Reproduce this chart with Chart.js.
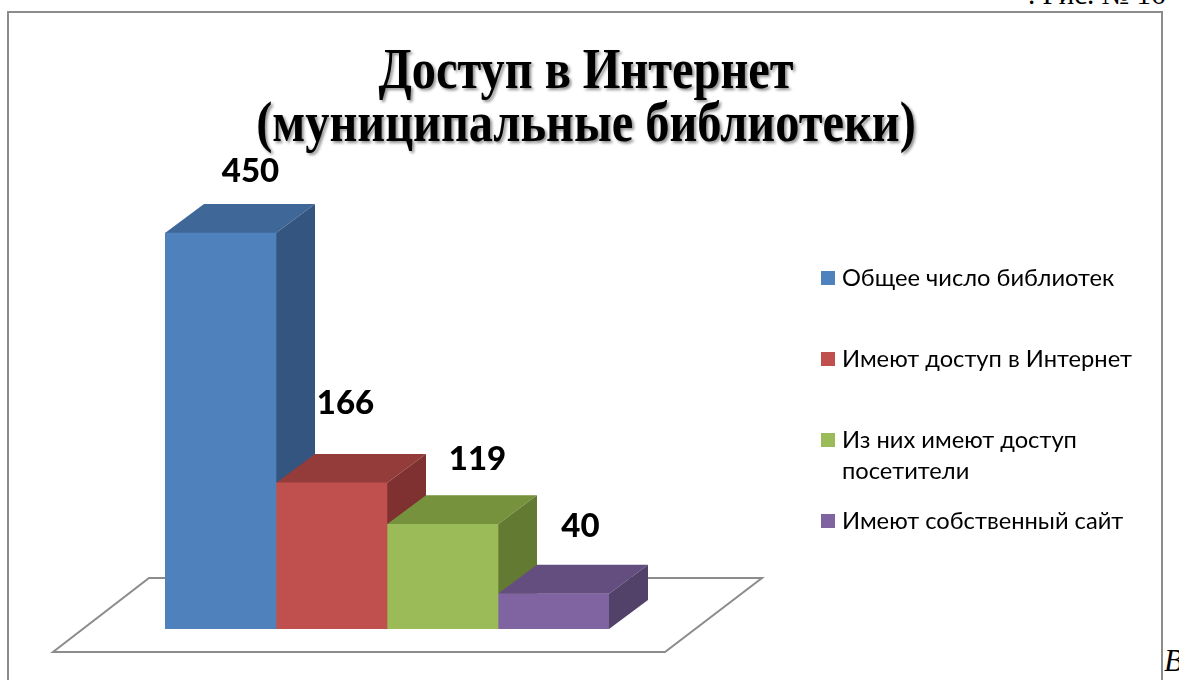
<!DOCTYPE html>
<html>
<head>
<meta charset="utf-8">
<script src="https://cdn.jsdelivr.net/npm/chart.js@4/dist/chart.umd.min.js"></script>
<style>
  html, body { margin: 0; padding: 0; background: #fff; overflow: hidden; }
  #wrap { position: relative; width: 1179px; height: 680px; }
  #frame { position: absolute; left: 7px; top: 11px; width: 1156px; height: 720px; border: 2px solid #8c8c8c; box-sizing: border-box; }
  #fig { position: absolute; left: 1028px; top: -22px; font: 29px "Liberation Serif", serif; color: #000; white-space: nowrap; }
  #tail { position: absolute; left: 1164px; top: 643px; font: italic 31px "Liberation Serif", serif; color: #000; }
  canvas { position: absolute; left: 0; top: 0; }
</style>
</head>
<body>
<div id="wrap">
  <div id="frame"></div>
  <div id="fig">. Рис. № 16</div>
  <div id="tail">В</div>
  <canvas id="c" width="1179" height="680"></canvas>
</div>
<script>
// ---- data ----
const categories = ['Муниципальные библиотеки'];
const seriesNames = ['Общее число библиотек', 'Имеют доступ в Интернет', 'Из них имеют доступ посетители', 'Имеют собственный сайт'];
const seriesValues = [450, 166, 119, 40];
const titleLines = ['Доступ в Интернет', '(муниципальные библиотеки)'];

// ---- styles ----
const frontColors = ['#4F81BD', '#C0504D', '#9BBB59', '#8064A2'];
const topColors   = ['#3F6898', '#943C3A', '#76923D', '#634E7F'];
const sideColors  = ['#33557F', '#7E3130', '#637A32', '#52426A'];
const DEPTH_X = 39, DEPTH_Y = -29;
const labelDX = [30, 14, 35, 27];
const labelDY = [-51, -69, -54, -57];

const bars3d = {
  id: 'bars3d',
  beforeDatasetsDraw(chart) {
    const ctx = chart.ctx;
    const a = chart.chartArea;
    const base = chart.scales.y.getPixelForValue(0);
    // floor
    ctx.save();
    ctx.beginPath();
    ctx.moveTo(a.left - 112, base + 23);
    ctx.lineTo(a.right + 56, base + 23);
    ctx.lineTo(a.right + 153, base - 51);
    ctx.lineTo(a.left - 16, base - 51);
    ctx.closePath();
    ctx.fillStyle = '#ffffff';
    ctx.fill();
    ctx.lineWidth = 2;
    ctx.strokeStyle = '#8c8c8c';
    ctx.stroke();
    // tops and sides
    chart.data.datasets.forEach((ds, i) => {
      const bar = chart.getDatasetMeta(i).data[0];
      const L = bar.x - bar.width / 2, R = bar.x + bar.width / 2, T = bar.y, B = bar.base;
      ctx.fillStyle = topColors[i];
      ctx.beginPath();
      ctx.moveTo(L, T); ctx.lineTo(L + DEPTH_X, T + DEPTH_Y);
      ctx.lineTo(R + DEPTH_X, T + DEPTH_Y); ctx.lineTo(R, T); ctx.closePath();
      ctx.fill();
      ctx.fillStyle = sideColors[i];
      ctx.beginPath();
      ctx.moveTo(R, T); ctx.lineTo(R + DEPTH_X, T + DEPTH_Y);
      ctx.lineTo(R + DEPTH_X, B + DEPTH_Y); ctx.lineTo(R, B); ctx.closePath();
      ctx.fill();
    });
    ctx.restore();
  },
  afterDatasetsDraw(chart) {
    const ctx = chart.ctx;
    ctx.save();
    ctx.font = '900 33px Lato, "Open Sans", sans-serif';
    ctx.fillStyle = '#000';
    ctx.textAlign = 'center';
    ctx.textBaseline = 'alphabetic';
    chart.data.datasets.forEach((ds, i) => {
      const bar = chart.getDatasetMeta(i).data[0];
      ctx.fillText(String(ds.data[0]), bar.x + labelDX[i], bar.y + labelDY[i]);
    });
    ctx.restore();
  },
  afterDraw(chart) {
    const ctx = chart.ctx;
    // title
    ctx.save();
    ctx.font = 'bold 57px "Liberation Serif", "Times New Roman", serif';
    const sx = 415 / ctx.measureText(titleLines[0]).width;
    const cx = 586;
    ctx.translate(cx, 0);
    ctx.scale(sx, 1);
    ctx.textAlign = 'center';
    ctx.textBaseline = 'alphabetic';
    ctx.shadowColor = 'rgba(0,0,0,0.45)';
    ctx.shadowOffsetX = 2;
    ctx.shadowOffsetY = 2;
    ctx.shadowBlur = 3;
    ctx.fillStyle = '#000';
    ctx.fillText(titleLines[0], 0, 88);
    ctx.fillText(titleLines[1], 0, 141);
    ctx.restore();
    // legend
    ctx.save();
    ctx.font = '23.7px Lato, "Open Sans", sans-serif';
    ctx.textAlign = 'left';
    ctx.textBaseline = 'middle';
    ctx.fillStyle = '#000';
    const maxW = 320;
    chart.data.datasets.forEach((ds, i) => {
      const cy = 278 + i * 81;
      ctx.fillStyle = frontColors[i];
      ctx.fillRect(821, cy - 7, 14, 14);
      ctx.fillStyle = '#000';
      const words = ds.label.split(' ');
      const lines = [];
      let cur = '';
      words.forEach(w => {
        const t = cur ? cur + ' ' + w : w;
        if (ctx.measureText(t).width > maxW && cur) { lines.push(cur); cur = w; } else { cur = t; }
      });
      if (cur) lines.push(cur);
      lines.forEach((ln, k) => ctx.fillText(ln, 842, cy + k * 31));
    });
    ctx.restore();
  }
};

new Chart(document.getElementById('c'), {
  type: 'bar',
  data: {
    labels: categories,
    datasets: seriesNames.map((name, i) => ({
      label: name,
      data: [seriesValues[i]],
      backgroundColor: frontColors[i],
      borderWidth: 0,
      categoryPercentage: 1,
      barPercentage: 1
    }))
  },
  options: {
    responsive: false,
    animation: false,
    devicePixelRatio: 1,
    layout: { padding: { left: 165, right: 570, top: 189, bottom: 51 } },
    plugins: { legend: { display: false }, title: { display: false }, tooltip: { enabled: false } },
    scales: {
      x: { display: false },
      y: { display: false, min: 0, max: 500 }
    }
  },
  plugins: [bars3d]
});
</script>
</body>
</html>
